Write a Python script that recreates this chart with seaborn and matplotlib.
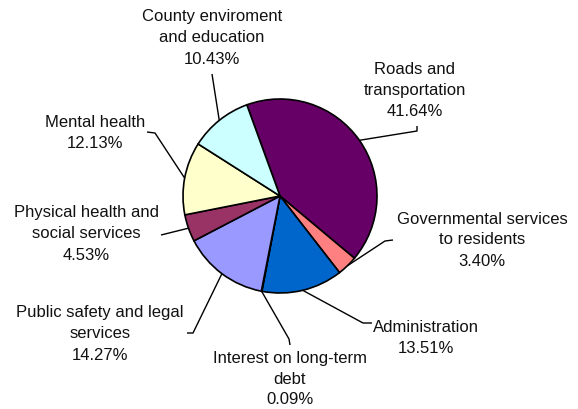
import numpy as np
import matplotlib
matplotlib.use("Agg")
import matplotlib.pyplot as plt
import seaborn as sns

# ---- data ----
categories = [
    "Roads and\ntransportation",
    "Governmental services\nto residents",
    "Administration",
    "Interest on long-term\ndebt",
    "Public safety and legal\nservices",
    "Physical health and\nsocial services",
    "Mental health",
    "County enviroment\nand education",
]
shares = [41.64, 3.40, 13.51, 0.09, 14.27, 4.53, 12.13, 10.43]
colors = ["#660066", "#FF8080", "#0066CC", "#CCCCFF",
          "#9999FF", "#993366", "#FFFFCC", "#CCFFFF"]

# label layout (pixel coords, y from top): text centre and leader elbow points
label_xy = [(415, 91), (482, 240), (426, 338), (290, 379),
            (100, 334), (86, 234), (95, 133), (212, 38)]
leader_pts = [
    [(417, 126), (417, 131)],
    [(393, 240), (385, 241)],
    [(372, 323), (363, 323)],
    [(290, 345), (289, 339)],
    [(187, 333), (193, 333)],
    [(161, 235)],
    [(147, 132), (155, 133)],
    [(212, 74)],
]

W, H = 578, 409
sns.set_theme(style="white")
plt.rcParams["font.family"] = ["Liberation Sans", "DejaVu Sans"]

fig = plt.figure(figsize=(W / 100, H / 100), dpi=100)
ax = fig.add_axes([0, 0, 1, 1])
ax.set_xlim(0, W)
ax.set_ylim(0, H)
ax.set_aspect("equal")
ax.axis("off")

cx, cy, r = 280, H - 196, 97
wedges, _ = ax.pie(shares, colors=colors, startangle=110, counterclock=False,
                   center=(cx, cy), radius=r,
                   wedgeprops=dict(edgecolor="black", linewidth=1.2))
ax.set_xlim(0, W)
ax.set_ylim(0, H)

for w, lab, val, (tx, ty), pts in zip(wedges, categories, shares, label_xy, leader_pts):
    mid = np.deg2rad((w.theta1 + w.theta2) / 2)
    ex, ey = cx + r * np.cos(mid), cy + r * np.sin(mid)
    xs = [p[0] for p in pts] + [ex]
    ys = [H - p[1] for p in pts] + [ey]
    ax.plot(xs, ys, color="black", lw=1.0, solid_capstyle="butt", zorder=0)
    ax.text(tx, H - ty, f"{lab}\n{val:.2f}%", ha="center", va="center",
            fontsize=12, color="#111111", linespacing=1.5)

fig.savefig("out.png", dpi=100, facecolor="white")
